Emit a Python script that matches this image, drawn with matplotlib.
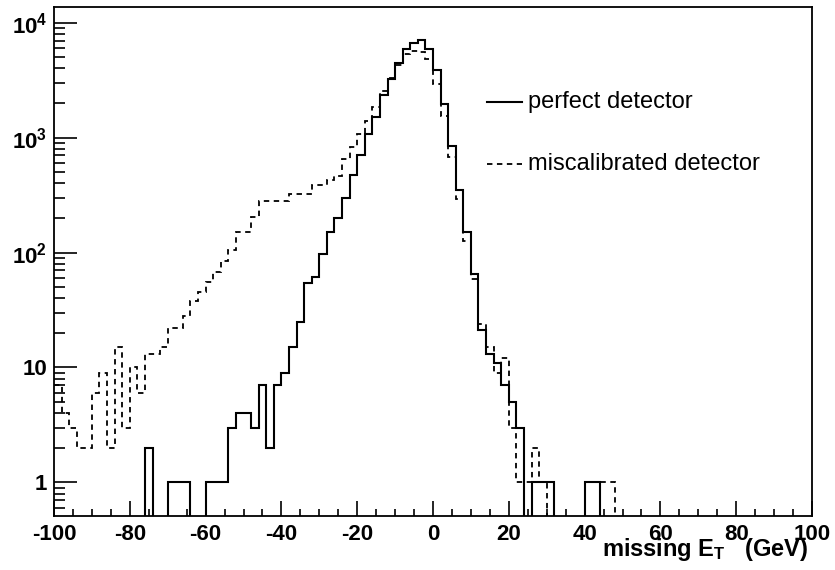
import numpy as np
import matplotlib
matplotlib.use('Agg')
import matplotlib.pyplot as plt
from matplotlib.ticker import FixedLocator, MultipleLocator, LogLocator, NullFormatter

plt.rcParams['font.family'] = ['Liberation Sans', 'DejaVu Sans']
plt.rcParams['axes.unicode_minus'] = False
plt.rcParams['mathtext.fontset'] = 'custom'
plt.rcParams['mathtext.rm'] = 'Liberation Sans:bold'
plt.rcParams['mathtext.it'] = 'Liberation Sans:bold'
plt.rcParams['mathtext.bf'] = 'Liberation Sans:bold'

# bin edges: 100 bins of 2 GeV from -100 to 100
edges = np.linspace(-100, 100, 101)

# perfect detector, bin contents
perfect = [0, 0, 0, 0, 0, 0, 0, 0, 0, 0,
           0, 0, 2, 0, 0, 1, 1, 1, 0, 0,
           1, 1, 1, 3, 4, 4, 3, 7, 2, 7,
           9, 15, 25, 54, 61, 98, 150, 200, 300, 470,
           710, 1080, 1500, 2350, 3240, 4500, 5900, 6700, 7100, 5900,
           3900, 1960, 850, 350, 150, 65, 21, 13, 11, 7,
           5, 3, 0, 1, 1, 1, 0, 0, 0, 0,
           1, 1, 0, 0, 0, 0, 0, 0, 0, 0,
           0, 0, 0, 0, 0, 0, 0, 0, 0, 0,
           0, 0, 0, 0, 0, 0, 0, 0, 0, 0]

# miscalibrated detector
miscal = [7, 4, 3, 2, 2, 6, 9, 2, 15, 3,
          10, 6, 13, 13, 15, 22, 22, 28, 38, 45,
          55, 68, 85, 105, 150, 150, 204, 280, 280, 280,
          280, 325, 325, 325, 384, 384, 430, 460, 650, 830,
          1080, 1400, 1850, 2560, 3300, 4300, 5300, 5700, 5600, 4800,
          2900, 1550, 680, 294, 125, 59, 24, 15, 9, 12,
          3, 1, 1, 2, 1, 0, 0, 0, 0, 0,
          0, 0, 1, 1, 0, 0, 0, 0, 0, 0,
          0, 0, 0, 0, 0, 0, 0, 0, 0, 0,
          0, 0, 0, 0, 0, 0, 0, 0, 0, 0]

ytick_vals = [1, 10, 100, 1000, 10000]
ytick_labels = ['1', '10', r'$\mathbf{10^{2}}$', r'$\mathbf{10^{3}}$', r'$\mathbf{10^{4}}$']
legend_labels = ['perfect detector', 'miscalibrated detector']

fig = plt.figure(figsize=(8.35, 5.7), dpi=100)
ax = fig.add_axes([54/835, 54/570, 758/835, 509/570])

# zero bins go below the frame (as ROOT draws them on the bottom edge)
p = np.array(perfect, dtype=float)
m = np.array(miscal, dtype=float)
p = np.where(p > 0, p, 1e-3)
m = np.where(m > 0, m, 1e-3)

ax.stairs(m, edges, baseline=None, color='black', lw=1.3,
          linestyle=(0, (3, 2.5)))
ax.stairs(p, edges, baseline=None, color='black', lw=1.5)

ax.set_yscale('log')
ax.set_xlim(-100, 100)
ax.set_ylim(0.51, 13700)

# ticks (ROOT style, inside, no ticks on top/right)
ax.xaxis.set_major_locator(MultipleLocator(20))
ax.xaxis.set_minor_locator(MultipleLocator(5))
ax.yaxis.set_major_locator(FixedLocator(ytick_vals))
ax.yaxis.set_minor_locator(LogLocator(base=10, subs=np.arange(2, 10)))
ax.yaxis.set_minor_formatter(NullFormatter())
ax.set_yticklabels(ytick_labels)
ax.tick_params(axis='both', which='both', direction='in', width=1.2)
ax.tick_params(axis='x', which='major', length=11, pad=6)
ax.tick_params(axis='x', which='minor', length=5)
ax.tick_params(axis='y', which='major', length=16.5, pad=5)
ax.tick_params(axis='y', which='minor', length=8)
for lab in ax.get_xticklabels() + ax.get_yticklabels():
    lab.set_fontsize(16)
    lab.set_fontweight('bold')
for s in ax.spines.values():
    s.set_linewidth(1.3)

# legend drawn by hand (no box)
ax.plot([0.571, 0.617], [0.813, 0.813], transform=ax.transAxes,
        color='black', lw=1.5)
ax.plot([0.571, 0.617], [0.692, 0.692], transform=ax.transAxes,
        color='black', lw=1.3, linestyle=(0, (3, 2.5)))
ax.text(0.625, 0.813, legend_labels[0], transform=ax.transAxes,
        fontsize=17, va='center', ha='left')
ax.text(0.625, 0.692, legend_labels[1], transform=ax.transAxes,
        fontsize=17, va='center', ha='left')

# axis title
ax.text(0.9947, -0.0786, r'missing E$_{\mathrm{T}}$   (GeV)', transform=ax.transAxes,
        fontsize=17, fontweight='bold', ha='right', va='baseline')

plt.savefig('out.png', dpi=100)
